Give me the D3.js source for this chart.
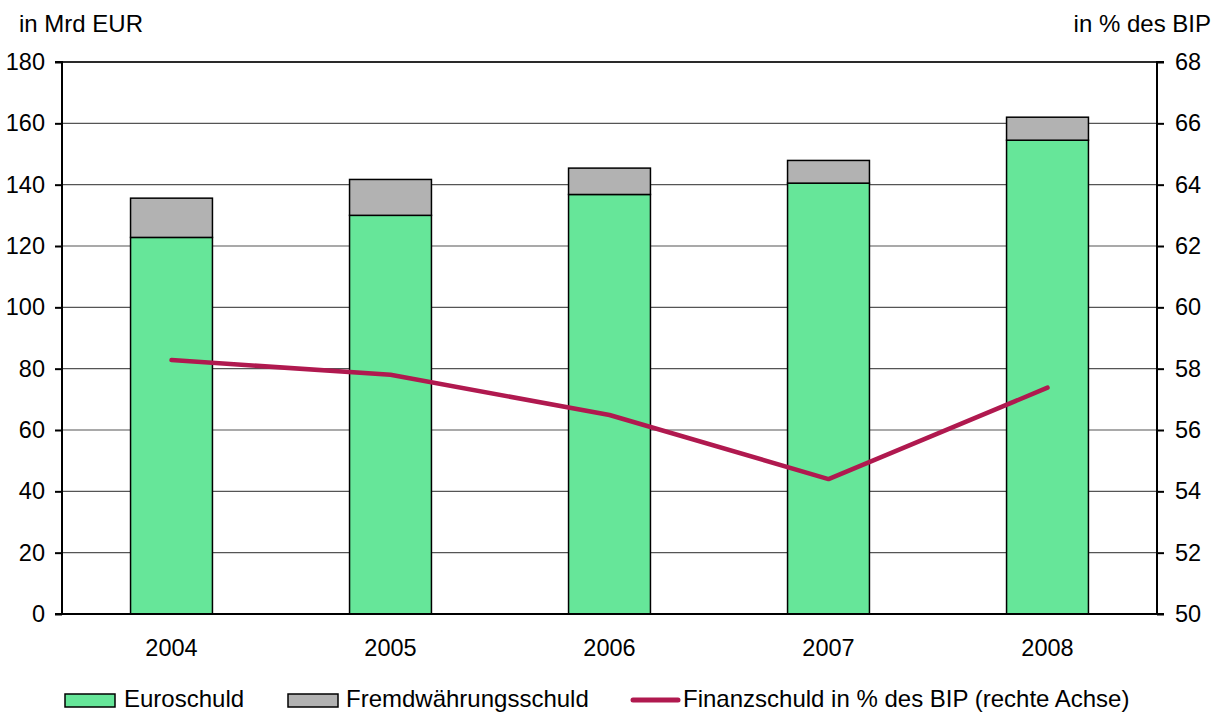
<!DOCTYPE html>
<html>
<head>
<meta charset="utf-8">
<script src="https://cdn.jsdelivr.net/npm/d3@7"></script>
<style>
  body { margin: 0; background: #fff; }
  svg text { font-family: "Liberation Sans", Arial, sans-serif; fill: #000; }
</style>
</head>
<body>
<svg id="chart" width="1223" height="714"></svg>
<script>
// data
const years = ["2004", "2005", "2006", "2007", "2008"];
const euroschuld = [122.8, 130.0, 136.8, 140.5, 154.5];
const fremdwaehrung = [12.8, 11.7, 8.6, 7.4, 7.5];
const quoteBIP = [58.28, 57.80, 56.49, 54.40, 57.38];
const leftTicks = [0, 20, 40, 60, 80, 100, 120, 140, 160, 180];
const rightTicks = [50, 52, 54, 56, 58, 60, 62, 64, 66, 68];

const colors = { euro: "#66E699", fremd: "#B2B2B2", line: "#B0194F" };

const svg = d3.select("#chart");
const plotLeft = 62, plotRight = 1157, plotTop = 62, plotBottom = 614;

const x = d3.scaleBand().domain(years).range([plotLeft, plotRight]).paddingInner(0.626).paddingOuter(0.313);
const y = d3.scaleLinear().domain([0, 180]).range([plotBottom, plotTop]);
const y2 = d3.scaleLinear().domain([50, 68]).range([plotBottom, plotTop]);

// gridlines
svg.append("g")
  .selectAll("line")
  .data(leftTicks.slice(1))
  .join("line")
  .attr("x1", plotLeft).attr("x2", plotRight)
  .attr("y1", d => y(d)).attr("y2", d => y(d))
  .attr("stroke", "#555").attr("stroke-width", 1.2);

// stacked bars
const rows = years.map((yr, i) => ({ year: yr, euro: euroschuld[i], fremd: fremdwaehrung[i] }));
const stacked = d3.stack().keys(["euro", "fremd"])(rows);

svg.append("g")
  .selectAll("g")
  .data(stacked)
  .join("g")
  .attr("fill", d => colors[d.key])
  .selectAll("rect")
  .data(d => d)
  .join("rect")
  .attr("x", d => x(d.data.year))
  .attr("width", x.bandwidth())
  .attr("y", d => y(d[1]))
  .attr("height", d => y(d[0]) - y(d[1]))
  .attr("stroke", "#000")
  .attr("stroke-width", 1.5);

// line on right axis
const line = d3.line()
  .x((d, i) => x(years[i]) + x.bandwidth() / 2)
  .y(d => y2(d));

svg.append("path")
  .datum(quoteBIP)
  .attr("d", line)
  .attr("fill", "none")
  .attr("stroke", colors.line)
  .attr("stroke-width", 4.5)
  .attr("stroke-linecap", "round")
  .attr("stroke-linejoin", "round");

// axes
const leftAxis = d3.axisLeft(y).tickValues(leftTicks).tickSize(7).tickPadding(10);
const gL = svg.append("g").attr("transform", `translate(${plotLeft},0)`).call(leftAxis);

const rightAxis = d3.axisRight(y2).tickValues(rightTicks).tickSize(7).tickPadding(11);
const gR = svg.append("g").attr("transform", `translate(${plotRight},0)`).call(rightAxis);

const bottomAxis = d3.axisBottom(x).tickSize(0).tickPadding(25);
const gB = svg.append("g").attr("transform", `translate(0,${plotBottom})`).call(bottomAxis);

[gL, gR, gB].forEach(g => {
  g.attr("font-size", null).attr("font-family", null);
  g.selectAll(".domain").attr("stroke", "#000").attr("stroke-width", 2);
  g.selectAll(".tick line").attr("stroke", "#000").attr("stroke-width", 2);
  g.selectAll("text").style("font-size", "23.5px");
});
gL.select(".domain").attr("d", `M-7,${plotTop}H0V${plotBottom}H-7`);
gR.select(".domain").attr("d", `M7,${plotTop}H0V${plotBottom}H7`);
gB.select(".domain").attr("d", `M${plotLeft - 7},0H${plotRight + 7}`);

// top border line
svg.append("line")
  .attr("x1", plotLeft).attr("x2", plotRight)
  .attr("y1", plotTop).attr("y2", plotTop)
  .attr("stroke", "#000").attr("stroke-width", 1.5);

// axis titles
svg.append("text").attr("x", 19).attr("y", 32).style("font-size", "24px").text("in Mrd EUR");
svg.append("text").attr("x", 1211).attr("y", 32).style("font-size", "24px")
  .attr("text-anchor", "end").text("in % des BIP");

// legend
const legend = svg.append("g");
const items = [
  { label: "Euroschuld", type: "rect", color: colors.euro, x: 65, tx: 124 },
  { label: "Fremdwährungsschuld", type: "rect", color: colors.fremd, x: 288, tx: 346 },
  { label: "Finanzschuld in % des BIP (rechte Achse)", type: "line", color: colors.line, x: 633, tx: 683 }
];
items.forEach(it => {
  if (it.type === "rect") {
    legend.append("rect")
      .attr("x", it.x).attr("y", 694).attr("width", 50).attr("height", 13)
      .attr("fill", it.color).attr("stroke", "#000").attr("stroke-width", 1.5);
  } else {
    legend.append("line")
      .attr("x1", it.x).attr("x2", it.x + 45).attr("y1", 700).attr("y2", 700)
      .attr("stroke", it.color).attr("stroke-width", 5).attr("stroke-linecap", "round");
  }
  legend.append("text").attr("x", it.tx).attr("y", 707)
    .style("font-size", "24px").text(it.label);
});
</script>
</body>
</html>
